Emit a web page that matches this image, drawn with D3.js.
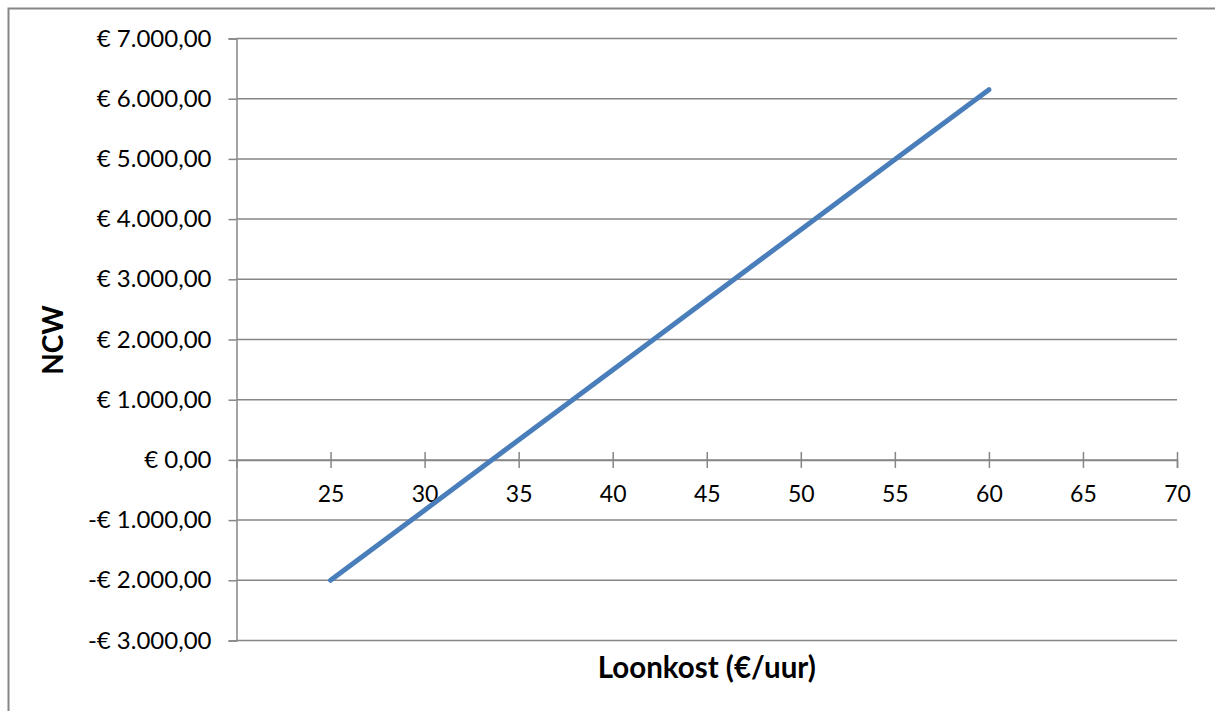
<!DOCTYPE html>
<html>
<head>
<meta charset="utf-8">
<script src="https://cdn.jsdelivr.net/npm/d3@7"></script>
<style>
  html, body { margin: 0; padding: 0; background: #ffffff; }
  svg { display: block; }
</style>
</head>
<body>
<svg id="chart" width="1215" height="711"></svg>
<script>
// ---- data ----
const loonkost = [25, 30, 35, 40, 45, 50, 55, 60];
const ncw = [-2000, -835, 330, 1495, 2660, 3825, 4990, 6150];
const xTicks = [25, 30, 35, 40, 45, 50, 55, 60, 65, 70];
const yTicks = [-3000, -2000, -1000, 0, 1000, 2000, 3000, 4000, 5000, 6000, 7000];
const xTitle = "Loonkost (€/uur)";
const yTitle = "NCW";

// ---- layout ----
const svg = d3.select("#chart");
const fontFamily = "Lato, 'Open Sans', sans-serif";
const gridColor = "#868686";
const lineColor = "#4A7EBB";

const x = d3.scaleLinear().domain([20, 70]).range([236.5, 1177]);
const y = d3.scaleLinear().domain([-3000, 7000]).range([640.5, 38.5]);

// chart frame (only left and top visible)
svg.append("rect")
  .attr("x", 8.5).attr("y", 8.5)
  .attr("width", 1300).attr("height", 800)
  .attr("fill", "none")
  .attr("stroke", gridColor)
  .attr("stroke-width", 2);

const fmt = v => {
  const s = Math.abs(v).toLocaleString("de-DE", { minimumFractionDigits: 2, maximumFractionDigits: 2 });
  return (v < 0 ? "-" : "") + "€ " + s;
};

// gridlines
svg.append("g")
  .selectAll("line")
  .data(yTicks)
  .join("line")
  .attr("x1", x.range()[0]).attr("x2", x.range()[1])
  .attr("y1", d => y(d)).attr("y2", d => y(d))
  .attr("stroke", gridColor)
  .attr("stroke-width", 1.5);

// y axis
const yAxis = svg.append("g")
  .attr("transform", `translate(${x.range()[0]},0)`)
  .call(d3.axisLeft(y).tickValues(yTicks).tickFormat(fmt).tickSize(8).tickPadding(17));
yAxis.select(".domain").attr("stroke", gridColor).attr("stroke-width", 1.5);
yAxis.selectAll(".tick line").attr("stroke", gridColor).attr("stroke-width", 1.5);
yAxis.selectAll(".tick text")
  .attr("fill", "#000")
  .style("font-family", fontFamily)
  .style("font-size", "24px");

// x axis at y = 0
const xAxis = svg.append("g")
  .attr("transform", `translate(0,${y(0)})`)
  .call(d3.axisBottom(x).tickValues(xTicks).tickFormat(d3.format("d")).tickSize(8).tickPadding(18));
xAxis.select(".domain").attr("stroke", gridColor).attr("stroke-width", 1.5);
xAxis.selectAll(".tick line")
  .attr("y1", -8).attr("y2", 8)
  .attr("stroke", gridColor).attr("stroke-width", 1.5);
xAxis.selectAll(".tick text")
  .attr("fill", "#000")
  .style("font-family", fontFamily)
  .style("font-size", "23px");

// data line
svg.append("path")
  .datum(loonkost.map((d, i) => [d, ncw[i]]))
  .attr("fill", "none")
  .attr("stroke", lineColor)
  .attr("stroke-width", 5)
  .attr("stroke-linecap", "round")
  .attr("stroke-linejoin", "round")
  .attr("d", d3.line().x(d => x(d[0])).y(d => y(d[1])));

// axis titles
svg.append("text")
  .attr("x", (x.range()[0] + x.range()[1]) / 2)
  .attr("y", 678)
  .attr("text-anchor", "middle")
  .style("font-family", fontFamily)
  .style("font-weight", "bold")
  .style("font-size", "29.5px")
  .text(xTitle);

svg.append("text")
  .attr("transform", `translate(63,340) rotate(-90)`)
  .attr("text-anchor", "middle")
  .style("font-family", fontFamily)
  .style("font-weight", "bold")
  .style("font-size", "28px")
  .text(yTitle);
</script>
</body>
</html>
